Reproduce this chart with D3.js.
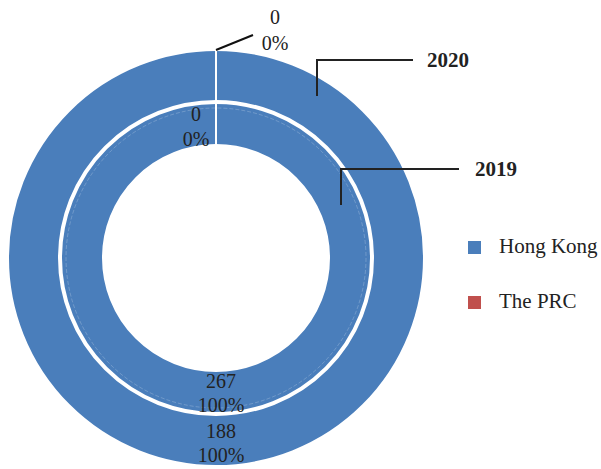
<!DOCTYPE html>
<html><head><meta charset="utf-8">
<script src="https://cdn.jsdelivr.net/npm/d3@7"></script>
<style>body{margin:0;background:#fff}svg{display:block}</style>
</head><body><div id="chart"></div>
<script>
const categories = ["Hong Kong", "The PRC"];
const seriesNames = ["2020", "2019"];
const values2020 = [188, 0];
const values2019 = [267, 0];
const colors = ["#4a7ebb", "#c0504d"];

const W = 601, H = 469;
const svg = d3.select("#chart").append("svg").attr("width", W).attr("height", H);
const cx = 216, cy = 258;
const g = svg.append("g").attr("transform", `translate(${cx},${cy})`);
const color = d3.scaleOrdinal().domain(categories).range(colors);
const pie = d3.pie().sort(null).value(d => d.v);

const rings = [
  {name: "2020", vals: values2020, r0: 157, r1: 208},
  {name: "2019", vals: values2019, r0: 113, r1: 155}
];
const font = "'Liberation Serif','Times New Roman',serif";

rings.forEach(ring => {
  const data = pie(categories.map((c, i) => ({c, v: ring.vals[i]})));
  const arc = d3.arc().innerRadius(ring.r0).outerRadius(ring.r1);
  ring.data = data; ring.arc = arc;
  g.selectAll(null).data(data).join("path")
    .attr("d", arc).attr("fill", d => color(d.data.c))
    .attr("stroke", "#fff").attr("stroke-width", 2);
  g.append("line").attr("x1", 0).attr("x2", 0).attr("y1", -ring.r0).attr("y2", -ring.r1)
    .attr("stroke", "#fff").attr("stroke-width", 2);
});
// faint inner guide
g.append("circle").attr("r", 150).attr("fill", "none")
  .attr("stroke", "rgba(255,255,255,0.3)").attr("stroke-width", 0.7).attr("stroke-dasharray", "4,2");

const total = v => d3.sum(v);
const pct = d3.format(".0%");

function label(x, y, lines, gap) {
  const t = g.append("text").attr("font-family", font).attr("font-size", 20)
    .attr("fill", "#222").attr("text-anchor", "middle");
  lines.forEach((l, i) => t.append("tspan").attr("x", x).attr("y", y + i * gap).text(l));
}

rings.forEach((ring, k) => {
  const d = ring.data[0];
  const [x, y] = ring.arc.centroid(d);
  const v = ring.vals[0];
  label(x + 5, y - (k === 0 ? 3 : 4), [String(v), pct(v / total(ring.vals))], 24);
});
{
  const r = rings[0];
  const v = r.vals[1];
  g.append("line").attr("x1", 0).attr("y1", -r.r1).attr("x2", 37).attr("y2", -r.r1 - 15)
    .attr("stroke", "#111").attr("stroke-width", 2);
  label(59, -r.r1 - 25 - 1, [String(v), pct(v / total(r.vals))], 26);
}
{
  const r = rings[1];
  const v = r.vals[1];
  label(-20, -r.r1 + 23 - 5, [String(v), pct(v / total(r.vals))], 25);
}

const leaders = [
  {name: seriesNames[0], x: 317, y0: 96, y1: 60, x2: 413, tx: 427, ty: 67},
  {name: seriesNames[1], x: 341, y0: 205, y1: 169, x2: 459, tx: 475, ty: 176}
];
leaders.forEach(l => {
  svg.append("path").attr("d", `M${l.x},${l.y0}V${l.y1}H${l.x2}`)
    .attr("fill", "none").attr("stroke", "#222").attr("stroke-width", 2);
  svg.append("text").attr("x", l.tx).attr("y", l.ty).attr("font-family", font)
    .attr("font-size", 21).attr("font-weight", "bold").attr("fill", "#222").text(l.name);
});

const lg = svg.append("g");
categories.forEach((c, i) => {
  const y = 241 + i * 55;
  lg.append("rect").attr("x", 468).attr("y", y).attr("width", 13).attr("height", 13).attr("fill", color(c));
  lg.append("text").attr("x", 499).attr("y", y + 12).attr("font-family", font)
    .attr("font-size", 21).attr("fill", "#222").text(c);
});
</script></body></html>
